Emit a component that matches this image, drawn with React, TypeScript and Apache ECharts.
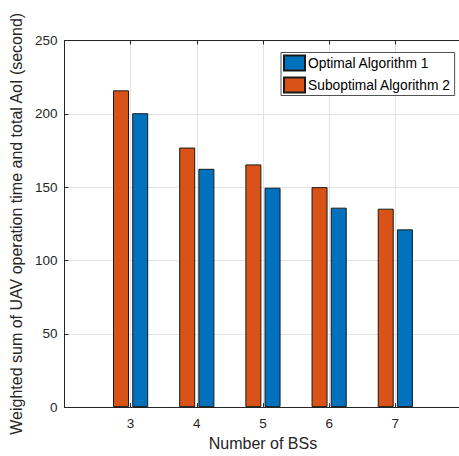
import React, { useEffect, useRef } from "react";
import * as echarts from "echarts";

const bsCounts = [3, 4, 5, 6, 7];
const suboptimalValues = [216, 177, 165.5, 150, 135.3];
const optimalValues = [200.4, 162.5, 149.6, 136, 121.2];
const yTicks = [0, 50, 100, 150, 200, 250];

const AXIS_COLOR = "#262626";
const GRID_COLOR = "#e3e3e3";
const FONT = "Liberation Sans, Arial, Helvetica, sans-serif";

export default function App() {
  const ref = useRef<HTMLDivElement>(null);

  useEffect(() => {
    if (!ref.current) return;
    const chart = echarts.init(ref.current, undefined, { renderer: "svg" });

    const baseX = {
      type: "value" as const,
      min: 2,
      max: 8,
      interval: 1,
      axisLine: { show: true, onZero: false, lineStyle: { color: AXIS_COLOR, width: 1 } },
      axisTick: { show: true, inside: true, length: 4, lineStyle: { color: AXIS_COLOR } },
    };

    chart.setOption({
      animation: false,
      textStyle: { fontFamily: FONT },
      grid: { left: 62, top: 40.5, right: 8.5, bottom: 43.3, containLabel: false },
      legend: {
        data: ["Optimal Algorithm 1", "Suboptimal Algorithm 2"],
        orient: "vertical",
        left: 281,
        top: 52.5,
        icon: "rect",
        itemWidth: 21,
        itemHeight: 15,
        itemGap: 5,
        padding: [2, 4, 2, 2],
        borderColor: AXIS_COLOR,
        borderWidth: 0.8,
        backgroundColor: "#ffffff",
        textStyle: { fontSize: 13.8, color: "#000000", fontFamily: FONT, padding: [0, 0, 0, -2] },
      },
      xAxis: [
        {
          ...baseX,
          position: "bottom",
          splitLine: { show: true, lineStyle: { color: GRID_COLOR, width: 1 } },
          axisLabel: {
            show: true,
            margin: 9,
            fontSize: 13.5,
            color: AXIS_COLOR,
            fontFamily: FONT,
            formatter: (v: number) => (bsCounts.includes(v) ? String(v) : ""),
          },
          name: "Number of BSs",
          nameLocation: "middle",
          nameGap: 25,
          nameTextStyle: { fontSize: 16, color: AXIS_COLOR, fontFamily: FONT },
        },
        {
          ...baseX,
          position: "top",
          splitLine: { show: false },
          axisLabel: { show: false },
        },
      ],
      yAxis: {
        type: "value",
        min: yTicks[0],
        max: yTicks[yTicks.length - 1],
        interval: 50,
        axisLine: { show: true, lineStyle: { color: AXIS_COLOR, width: 1 } },
        axisTick: { show: true, inside: true, length: 4, lineStyle: { color: AXIS_COLOR } },
        splitLine: { show: true, lineStyle: { color: GRID_COLOR, width: 1 } },
        axisLabel: { margin: 7, fontSize: 13.5, color: AXIS_COLOR, fontFamily: FONT },
        name: "Weighted sum of UAV operation time and total AoI (second)",
        nameLocation: "middle",
        nameGap: 35,
        nameRotate: 90,
        nameTextStyle: { fontSize: 16, color: AXIS_COLOR, fontFamily: FONT },
      },
      series: [
        {
          name: "Suboptimal Algorithm 2",
          type: "bar",
          xAxisIndex: 0,
          data: bsCounts.map((x, i) => [x, suboptimalValues[i]]),
          barWidth: 16,
          barGap: "20%",
          itemStyle: { color: "#D95319", borderColor: "#1a1a1a", borderWidth: 1 },
          emphasis: { disabled: true },
        },
        {
          name: "Optimal Algorithm 1",
          type: "bar",
          xAxisIndex: 0,
          data: bsCounts.map((x, i) => [x, optimalValues[i]]),
          barWidth: 16,
          barGap: "20%",
          itemStyle: { color: "#0072BD", borderColor: "#1a1a1a", borderWidth: 1 },
          emphasis: { disabled: true },
        },
      ],
    });

    return () => chart.dispose();
  }, []);

  return (
    <div
      style={{
        position: "fixed",
        left: 0,
        top: 0,
        width: 459,
        height: 456,
        overflow: "hidden",
        background: "#ffffff",
      }}
    >
      <div ref={ref} style={{ width: 470, height: 456 }} />
    </div>
  );
}
